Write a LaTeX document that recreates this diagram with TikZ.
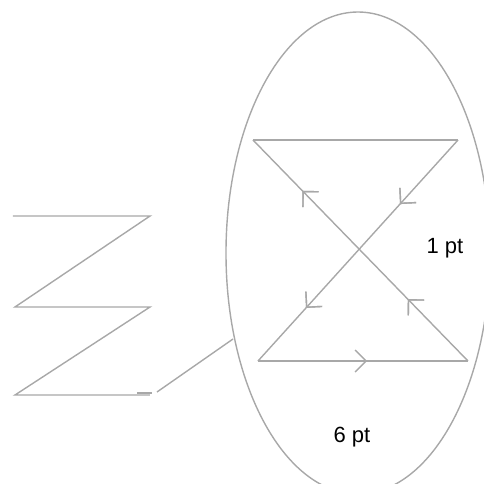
\documentclass[tikz,border=0pt]{standalone}
\usepackage{fontspec}
\setmainfont{Liberation Sans}
\usetikzlibrary{decorations.markings,arrows.meta}
\definecolor{linegray}{RGB}{168,168,168}

\tikzset{
  wire/.style={draw=linegray, line width=0.7pt},
  barb/.style={postaction={decorate},
    decoration={markings, mark=at position #1 with {\arrow[linegray, line width=0.7pt]{Straight Barb[length=5.5pt,width=11pt]}}}},
  lbl/.style={anchor=base, font=\fontsize{11}{13}\selectfont}
}

\begin{document}
\begin{tikzpicture}[x=0.5pt,y=-0.5pt]
\useasboundingbox (0,0) rectangle (484,484);
\clip (0,0) rectangle (484,484);

% zigzag
\coordinate (Z1) at (13,216);
\coordinate (Z2) at (150,216);
\coordinate (Z3) at (15,307);
\coordinate (Z4) at (150,307);
\coordinate (Z5) at (15,395);
\coordinate (Z6) at (150,395);
\coordinate (S1) at (137,393);
\coordinate (S2) at (152,393);
\coordinate (P) at (157,392);
\coordinate (Q) at (233,339);

\path[wire] (Z1) -- (Z2) -- (Z3) -- (Z4) -- (Z5) -- (Z6);
\path[wire] (S1) -- (S2);
\path[wire] (P) -- (Q);

% ellipse
\draw[linegray, line width=0.7pt] (358,253) ellipse (132 and 241);

% hourglass
\coordinate (TL) at (253,140);
\coordinate (TR) at (458,140);
\coordinate (BL) at (258,361);
\coordinate (BR) at (468,361);

\path[wire,barb=0.52] (BL) -- (BR);
\path[wire,barb=0.28,barb=0.77] (BR) -- (TL);
\path[wire] (TL) -- (TR);
\path[wire,barb=0.29,barb=0.76] (TR) -- (BL);

\node[lbl] (one) at (445,253) {1 pt};
\node[lbl] (six) at (352,442) {6 pt};
\end{tikzpicture}
\end{document}
